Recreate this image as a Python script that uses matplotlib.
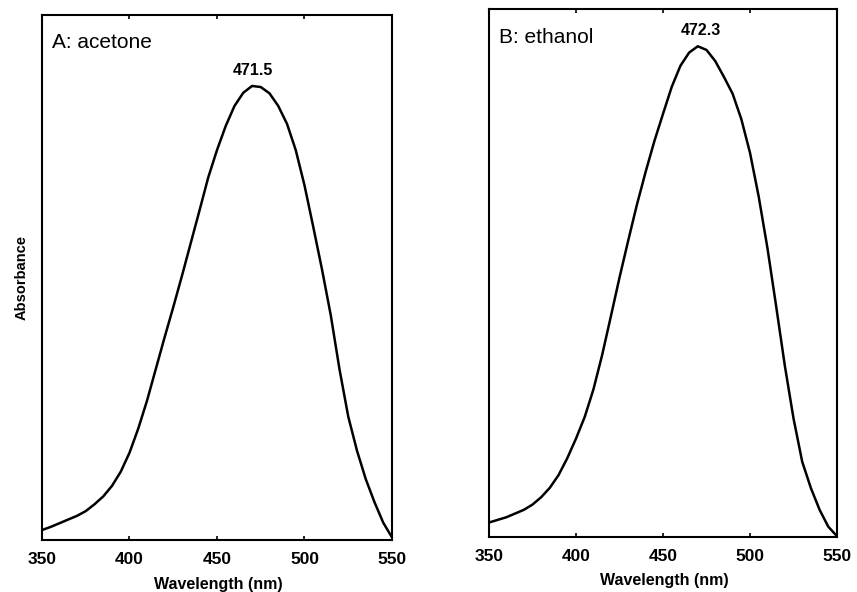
import matplotlib
matplotlib.use("Agg")
import matplotlib.pyplot as plt

plt.rcParams['font.family'] = ['Liberation Sans', 'DejaVu Sans']

wavelength = [350, 355, 360, 365, 370, 375, 380, 385, 390, 395, 400, 405, 410, 415,
              420, 425, 430, 435, 440, 445, 450, 455, 460, 465, 470, 475, 480, 485,
              490, 495, 500, 505, 510, 515, 520, 525, 530, 535, 540, 545, 550]

acetone = [0.019, 0.025, 0.032, 0.039, 0.046, 0.055, 0.068, 0.083, 0.103, 0.130,
           0.166, 0.212, 0.265, 0.325, 0.385, 0.443, 0.503, 0.565, 0.627, 0.690,
           0.742, 0.788, 0.826, 0.851, 0.864, 0.862, 0.850, 0.826, 0.792, 0.742,
           0.675, 0.596, 0.515, 0.428, 0.325, 0.235, 0.170, 0.116, 0.072, 0.033, 0.005]

ethanol = [0.028, 0.033, 0.038, 0.045, 0.052, 0.062, 0.076, 0.094, 0.118, 0.150,
           0.187, 0.228, 0.280, 0.345, 0.418, 0.492, 0.562, 0.630, 0.692, 0.750,
           0.802, 0.853, 0.893, 0.918, 0.930, 0.923, 0.902, 0.872, 0.840, 0.792,
           0.728, 0.645, 0.548, 0.438, 0.325, 0.225, 0.143, 0.093, 0.052, 0.020, 0.002]

panel_labels = ["A: acetone", "B: ethanol"]
peak_labels = ["471.5", "472.3"]
peak_label_x = [470.6, 471.6]
peak_label_y = [0.893, 0.960]
xticks = [350, 400, 450, 500, 550]

fig = plt.figure(figsize=(8.57, 5.92), dpi=100)
ax1 = fig.add_axes([0.049, 0.0878, 0.4084, 0.8877])
ax2 = fig.add_axes([0.5706, 0.0924, 0.4061, 0.8919])

for ax, series, plabel, pk, pkx, pky in zip(
        [ax1, ax2], [acetone, ethanol], panel_labels, peak_labels, peak_label_x, peak_label_y):
    ax.plot(wavelength, series, color='black', lw=1.8, solid_capstyle='round',
            solid_joinstyle='round')
    ax.set_xlim(350, 550)
    ax.set_ylim(0, 1)
    ax.set_xticks(xticks)
    ax.set_yticks([])
    ax.tick_params(axis='x', direction='in', length=3, width=1.2, top=True,
                   labelsize=12.5, pad=8.5)
    for lab in ax.get_xticklabels():
        lab.set_fontweight('bold')
    for sp in ax.spines.values():
        sp.set_linewidth(1.5)
    ax.set_xlabel("Wavelength (nm)", fontsize=11.5, fontweight='bold')
    ax.xaxis.label.set_va('center')
    ax.text(0.03, 0.946, plabel, transform=ax.transAxes, fontsize=15,
            ha='left', va='center')
    ax.text(pkx, pky, pk, fontsize=11.5, fontweight='bold', ha='center', va='center')

ax1.xaxis.set_label_coords(0.503, -0.085)
ax2.xaxis.set_label_coords(0.503, -0.082)
ax1.set_ylabel("Absorbance", fontsize=10.5, fontweight='bold')
ax1.yaxis.label.set_va('center')
ax1.yaxis.set_label_coords(-0.058, 0.50)

fig.savefig("out.png", dpi=100)
